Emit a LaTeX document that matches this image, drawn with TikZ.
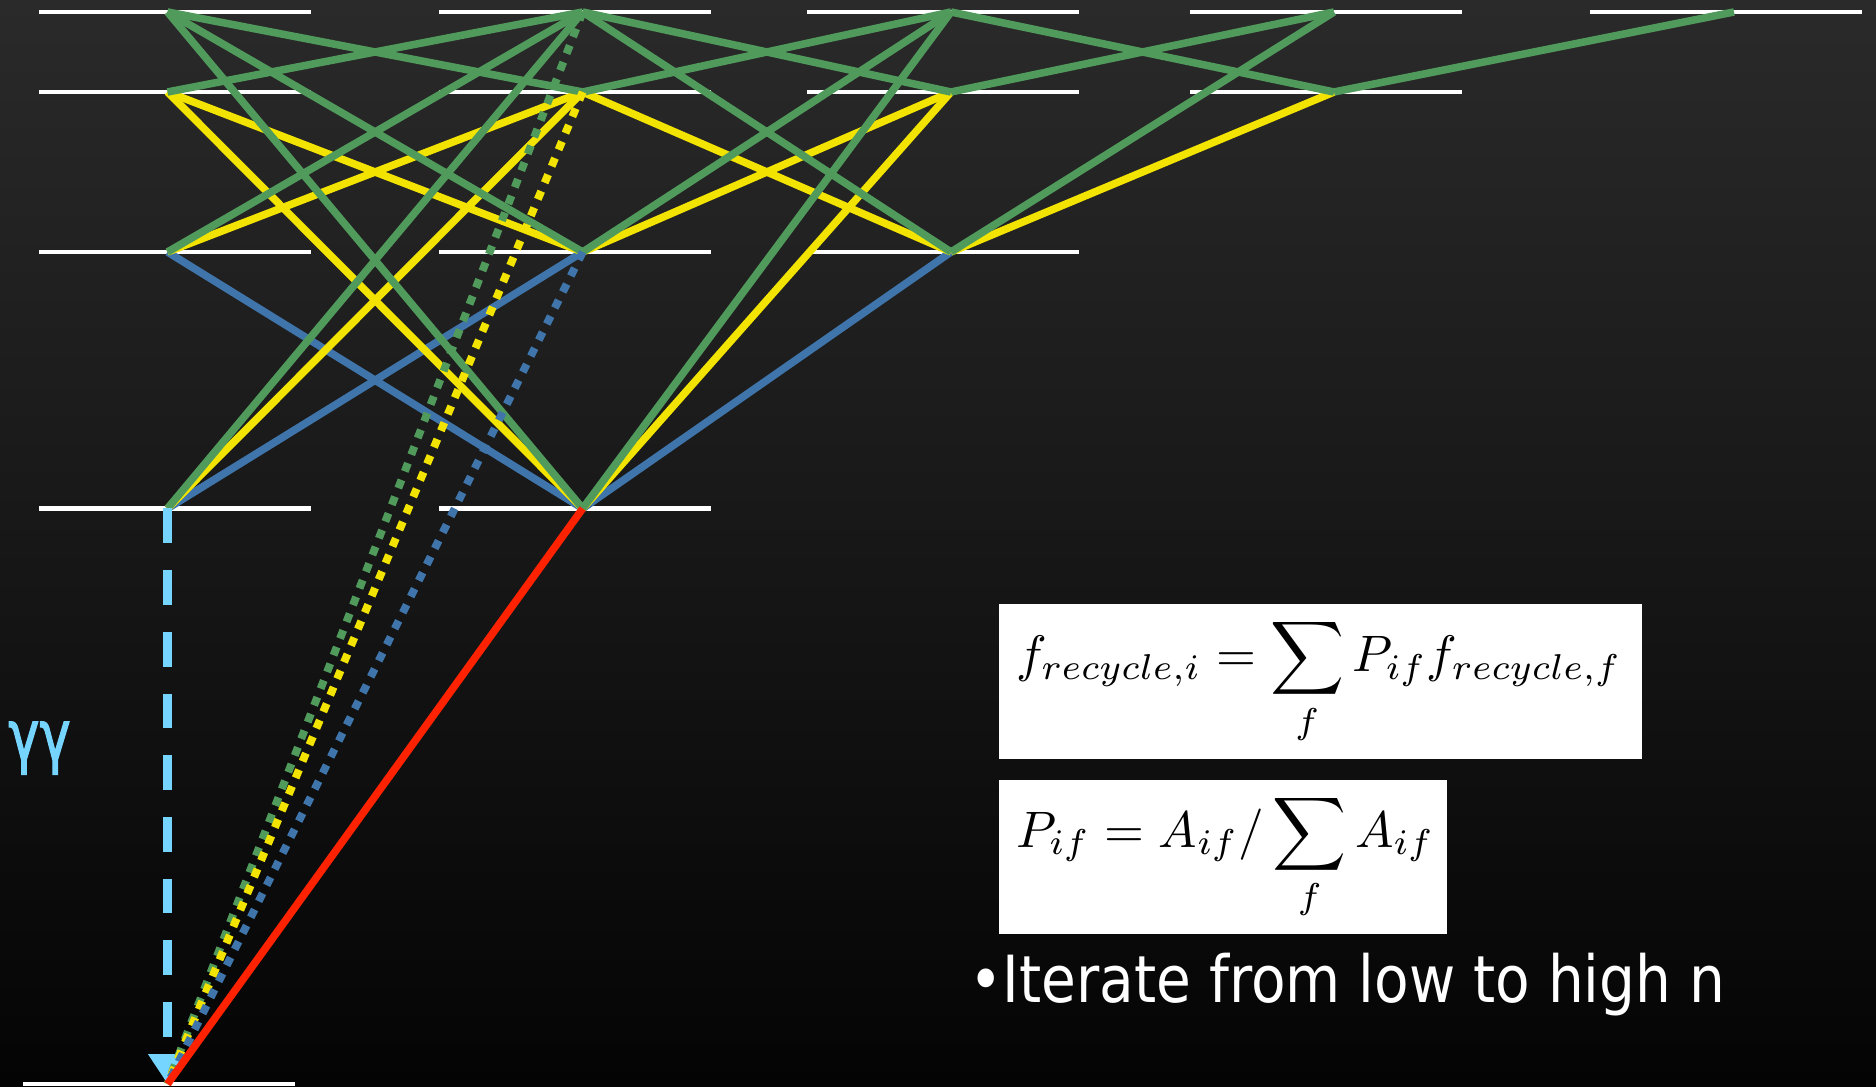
\documentclass[tikz,border=0pt]{standalone}
\usepackage{graphicx}
\usepackage{fontspec}
\newfontfamily\tah[FakeStretch=0.87]{DejaVu Sans}
\newfontfamily\gfont[FakeStretch=0.75,FakeBold=1.5]{DejaVu Sans}
\usetikzlibrary{arrows.meta,calc}
\definecolor{bgtop}{RGB}{42,42,42}
\definecolor{bgbot}{RGB}{4,4,4}
\definecolor{lvgreen}{RGB}{80,154,92}
\definecolor{lvyellow}{RGB}{242,228,0}
\definecolor{lvblue}{RGB}{63,117,170}
\definecolor{lvred}{RGB}{255,34,0}
\definecolor{lvcyan}{RGB}{117,213,255}
\begin{document}
\begin{tikzpicture}[x=0.02cm,y=-0.02cm,
  lvl/.style={draw=white,line width=2.3pt},
  trans/.style={line width=4.3pt},
  tblue/.style={trans,draw=lvblue},
  tyellow/.style={trans,draw=lvyellow},
  tgreen/.style={trans,draw=lvgreen},
  tred/.style={trans,draw=lvred},
  dotline/.style={line width=4.5pt,dash pattern=on 5pt off 5.2pt},
  twoph/.style={draw=lvcyan,line width=4.8pt,dash pattern=on 19.8pt off 15.3pt,-{Triangle[width=21pt,length=17pt]}}]
\shade[top color=bgtop,bottom color=bgbot] (0,0) rectangle (1876,1087);
\useasboundingbox (0,0) rectangle (1876,1087);
% levels
\coordinate (s1) at (167.5,1084);
\coordinate (s2) at (167.5,508.5);
\coordinate (s3) at (167.5,252);
\coordinate (s4) at (167.5,92);
\coordinate (s5) at (167.5,12);
\coordinate (p2) at (582.7,508.5);
\coordinate (p3) at (582.7,252);
\coordinate (p4) at (582.7,92);
\coordinate (p5) at (582.7,12);
\coordinate (d3) at (951,252);
\coordinate (d4) at (951,92);
\coordinate (d5) at (951,12);
\coordinate (f4) at (1334,92);
\coordinate (f5) at (1334,12);
\coordinate (g5) at (1734,12);
\draw[lvl] ($(s1)+(-144.5,0)$) -- ($(s1)+(127.5,0)$);
\foreach \c in {s2,s3,s4,s5}
  \draw[lvl] ($(\c)+(-128.5,0)$) -- ($(\c)+(143.5,0)$);
\foreach \c in {p2,p3,p4,p5,d3,d4,d5,f4,f5,g5}
  \draw[lvl] ($(\c)+(-143.7,0)$) -- ($(\c)+(128.3,0)$);
% transitions
\foreach \a/\b in {s2/p3,s3/p2,p2/d3}
  \draw[tblue] (\a) -- (\b);
\foreach \a/\b in {s4/p3,s4/p2,s3/p4,s2/p4,p4/d3,p3/d4,p2/d4,d3/f4}
  \draw[tyellow] (\a) -- (\b);
\foreach \a/\b in {s5/p4,s5/p3,s5/p2,s4/p5,s3/p5,s2/p5,p5/d4,p5/d3,p4/d5,p3/d5,p2/d5,d4/f5,d3/f5,d5/f4,f4/g5}
  \draw[tgreen] (\a) -- (\b);
\draw[twoph] (s2) -- (s1);
\draw[dotline,draw=lvgreen] (p5) -- (s1);
\draw[dotline,draw=lvyellow] (p4) -- (s1);
\draw[dotline,draw=lvblue] (p3) -- (s1);
\draw[tred] (p2) -- (s1);
% formulas
\fill[white] (998.7,604) rectangle (1641.8,759);
\fill[white] (998.7,780) rectangle (1446.6,934.3);
\node (eq1) [anchor=west,inner sep=0,text=black] at (1016,681.5)
  {\scalebox{2.92}{$\displaystyle f_{recycle,i} = \sum_f P_{if} f_{recycle,f}$}};
\node (eq2) [anchor=west,inner sep=0,text=black] at (1016,857)
  {\scalebox{2.92}{$\displaystyle P_{if} = A_{if}/\sum_f A_{if}$}};
\node (iter) [anchor=base west,inner sep=0,text=white,font=\tah\fontsize{37}{44}\selectfont] at (969,1002)
  {•Iterate from low to high n};
\node (gg) [anchor=base west,inner sep=0,text=lvcyan,font=\gfont\fontsize{40}{46}\selectfont] at (8,760)
  {γγ};
\end{tikzpicture}
\end{document}
